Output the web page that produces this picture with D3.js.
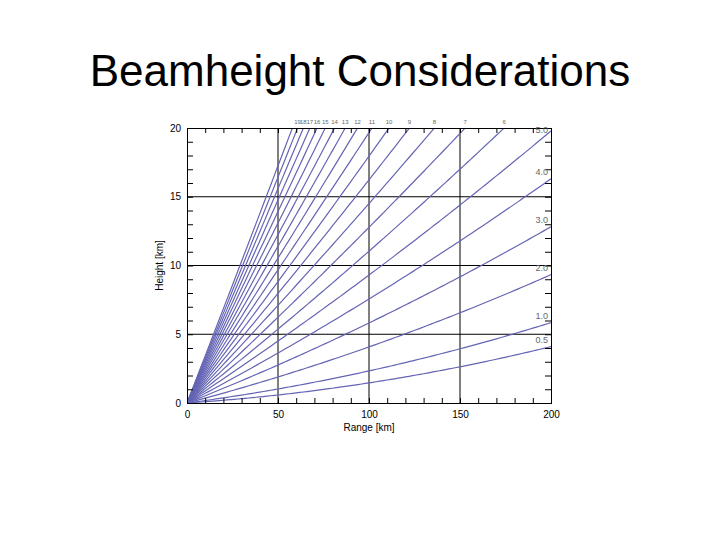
<!DOCTYPE html>
<html><head><meta charset="utf-8">
<script src="https://cdn.jsdelivr.net/npm/d3@7"></script>
<style>html,body{margin:0;padding:0;background:#fff}svg{display:block}</style>
</head><body>
<svg id="c" width="720" height="540"></svg>
<script>
// Elevation angles (degrees) of the plotted radar beams
const angles = [0.5,1,2,3,4,5,6,7,8,9,10,11,12,13,14,15,16,17,18,19,20];
// Angles labelled at the right edge and along the top edge
const rightLabels = [0.5,1,2,3,4,5];
const topLabels = [6,7,8,9,10,11,12,13,14,15,16,17,18,19];
// Sample ranges (km) along each beam
const ranges = d3.range(0, 201, 2);
const xTicks = [0,50,100,150,200];
const yTicks = [0,5,10,15,20];
// Effective earth radius, 4/3 model (km)
const Re = 6371*4/3;
function beamHeight(r, deg){ return r*Math.sin(deg*Math.PI/180) + r*r/(2*Re); }

const svg = d3.select('#c');
const L=187, R=551, T=128, B=403;
const x = d3.scaleLinear().domain([0,200]).range([L,R]);
const y = d3.scaleLinear().domain([0,20]).range([B,T]);

svg.append('text').attr('x',360).attr('y',86).attr('text-anchor','middle')
  .attr('font-family','Liberation Sans, Arial, sans-serif').attr('font-size',44)
  .attr('fill','#000').text('Beamheight Considerations');

svg.append('clipPath').attr('id','clip').append('rect')
  .attr('x',L).attr('y',T).attr('width',R-L).attr('height',B-T);

// gridlines
const g = svg.append('g');
g.selectAll('.gx').data(xTicks.slice(1,-1)).join('line')
  .attr('x1',d=>x(d)).attr('x2',d=>x(d)).attr('y1',T).attr('y2',B)
  .attr('stroke','#000').attr('stroke-width',1);
g.selectAll('.gy').data(yTicks.slice(1,-1)).join('line')
  .attr('y1',d=>y(d)).attr('y2',d=>y(d)).attr('x1',L).attr('x2',R)
  .attr('stroke','#000').attr('stroke-width',1);

// beams
const line = d3.line().x(d=>x(d[0])).y(d=>y(d[1]));
svg.append('g').attr('clip-path','url(#clip)')
  .selectAll('path').data(angles).join('path')
  .attr('d',a=>line(ranges.map(r=>[r,beamHeight(r,a)])))
  .attr('fill','none').attr('stroke','#6464b4').attr('stroke-width',1.2);

// axes (inward ticks)
const ax = svg.append('g').attr('font-family','Liberation Sans, Arial, sans-serif').attr('font-size',10);
ax.append('g').attr('transform',`translate(0,${B})`)
  .call(d3.axisBottom(x).tickValues(d3.range(0,201,10)).tickSize(-5).tickFormat(''));
ax.append('g').attr('transform',`translate(0,${T})`)
  .call(d3.axisTop(x).tickValues(d3.range(0,201,10)).tickSize(-5).tickFormat(''));
ax.append('g').attr('transform',`translate(${L},0)`)
  .call(d3.axisLeft(y).tickValues(d3.range(0,21,1)).tickSize(-6).tickFormat(''));
ax.append('g').attr('transform',`translate(${R},0)`)
  .call(d3.axisRight(y).tickValues(d3.range(0,21,1)).tickSize(-6).tickFormat(''));
ax.selectAll('.domain').attr('stroke','#000');
ax.selectAll('.tick line').attr('stroke','#000');

ax.append('g').attr('transform',`translate(0,${B})`)
  .call(d3.axisBottom(x).tickValues(xTicks).tickSize(0).tickPadding(8).tickFormat(d3.format('d')))
  .call(s=>s.select('.domain').remove());
ax.append('g').attr('transform',`translate(${L},0)`)
  .call(d3.axisLeft(y).tickValues(yTicks).tickSize(0).tickPadding(6).tickFormat(d3.format('d')))
  .call(s=>s.select('.domain').remove());
ax.selectAll('text').attr('fill','#000').attr('font-size',10);

ax.append('text').attr('x',(L+R)/2).attr('y',431).attr('text-anchor','middle')
  .attr('font-size',10).attr('fill','#000').text('Range [km]');
ax.append('text').attr('transform',`translate(163,${(T+B)/2}) rotate(-90)`).attr('text-anchor','middle')
  .attr('font-size',10).attr('fill','#000').text('Height [km]');

// beam labels
const lab = svg.append('g').attr('font-family','Liberation Sans, Arial, sans-serif').attr('fill','#666');
lab.selectAll('text.r').data(rightLabels).join('text')
  .attr('x',R-3).attr('y',a=>Math.max(T+5, y(beamHeight(200,a))-4)).attr('text-anchor','end')
  .attr('font-size',9).text(d=>d3.format('.1f')(d));
function exitRange(a){ // range where the beam reaches 20 km
  let lo=0, hi=200; for(let i=0;i<40;i++){const m=(lo+hi)/2; if(beamHeight(m,a)<20) lo=m; else hi=m;} return lo; }
lab.selectAll('text.t').data(topLabels).join('text')
  .attr('x',a=>x(exitRange(a))).attr('y',T-4).attr('text-anchor','middle')
  .attr('font-size',6).text(d=>d);
</script>
</body></html>
